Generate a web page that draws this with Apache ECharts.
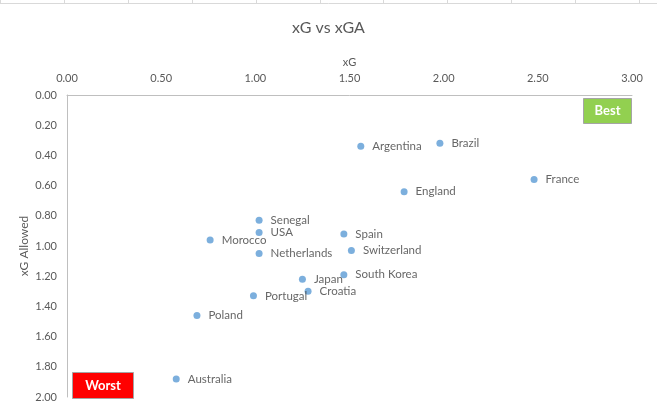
<!DOCTYPE html>
<html>
<head>
<meta charset="utf-8">
<script src="https://cdn.jsdelivr.net/npm/echarts@6/dist/echarts.min.js"></script>
<style>
  html, body { margin: 0; padding: 0; background: #fff; }
  #chart { width: 657px; height: 412px; }
</style>
</head>
<body>
<div id="chart"></div>
<script>
// teams, xG per game and xG allowed per game
const teams = ['Argentina', 'Brazil', 'England', 'France', 'Senegal', 'USA', 'Morocco', 'Netherlands',
  'Spain', 'Switzerland', 'Japan', 'South Korea', 'Croatia', 'Poland', 'Portugal', 'Australia']
const xg = [1.56, 1.98, 1.79, 2.48, 1.02, 1.02, 0.76, 1.02, 1.47, 1.51, 1.25, 1.47, 1.28, 0.69, 0.99, 0.58]
const xga = [0.34, 0.32, 0.64, 0.56, 0.83, 0.91, 0.96, 1.05, 0.92, 1.03, 1.22, 1.19, 1.30, 1.46, 1.33, 1.88]

const font = 'Lato, "Open Sans", sans-serif'
const grey = '#595959'

const chart = echarts.init(document.getElementById('chart'))

// faint spreadsheet cell lines peeking in at the top
const sheetLines = [{ type: 'line', shape: { x1: 0, y1: 3.5, x2: 657, y2: 3.5 }, style: { stroke: '#d9d9d9', lineWidth: 1 } }]
for (let i = 0; i <= 10; i++) {
  const x = Math.round(i * 63.9) + 0.5
  sheetLines.push({ type: 'line', shape: { x1: x, y1: 0, x2: x, y2: 3.5 }, style: { stroke: '#d9d9d9', lineWidth: 1 } })
}

chart.setOption({
  animation: false,
  textStyle: { fontFamily: font },
  title: {
    text: 'xG vs xGA',
    left: 'center',
    top: 15,
    textStyle: { fontFamily: font, fontSize: 16, fontWeight: 'normal', color: grey }
  },
  grid: { left: 67, right: 25, top: 95, bottom: 15 },
  xAxis: {
    type: 'value',
    position: 'top',
    min: 0,
    max: 3,
    interval: 0.5,
    name: 'xG',
    nameLocation: 'middle',
    nameGap: 27,
    nameMoveOverlap: false,
    nameTextStyle: { color: grey, fontSize: 11, fontFamily: font },
    axisLine: { show: true, lineStyle: { color: '#bfbfbf' } },
    axisTick: { show: false },
    splitLine: { show: false },
    axisLabel: { color: grey, fontSize: 11, margin: 11, formatter: (v) => v.toFixed(2) }
  },
  yAxis: {
    type: 'value',
    inverse: true,
    min: 0,
    max: 2,
    interval: 0.2,
    name: 'xG Allowed',
    nameLocation: 'middle',
    nameGap: 37,
    nameMoveOverlap: false,
    nameTextStyle: { color: grey, fontSize: 12, fontFamily: font },
    axisLine: { show: true, lineStyle: { color: '#bfbfbf' } },
    axisTick: { show: false },
    splitLine: { show: false },
    axisLabel: { color: grey, fontSize: 11, margin: 10, formatter: (v) => v.toFixed(2) }
  },
  graphic: [
    ...sheetLines,
    {
      type: 'group',
      left: 583,
      top: 98,
      children: [
        { type: 'rect', shape: { x: 0, y: 0, width: 48, height: 25 }, style: { fill: '#92d050', stroke: '#a5a5a5', lineWidth: 1 } },
        { type: 'text', x: 24, y: 12.5, style: { text: 'Best', fill: '#fff', font: 'bold 13px ' + font, align: 'center', verticalAlign: 'middle' } }
      ]
    },
    {
      type: 'group',
      left: 72,
      top: 372,
      children: [
        { type: 'rect', shape: { x: 0, y: 0, width: 61, height: 26 }, style: { fill: '#ff0000', stroke: '#a5a5a5', lineWidth: 1 } },
        { type: 'text', x: 30.5, y: 13, style: { text: 'Worst', fill: '#fff', font: 'bold 13px ' + font, align: 'center', verticalAlign: 'middle' } }
      ]
    }
  ],
  series: [{
    type: 'scatter',
    symbolSize: 7,
    itemStyle: { color: '#5b9bd5' },
    data: teams.map((t, i) => ({ name: t, value: [xg[i], xga[i]] })),
    label: {
      show: true,
      position: 'right',
      distance: 8,
      formatter: (p) => p.name,
      color: '#404040',
      fontSize: 11.5,
      fontFamily: font
    }
  }]
})
</script>
</body>
</html>
